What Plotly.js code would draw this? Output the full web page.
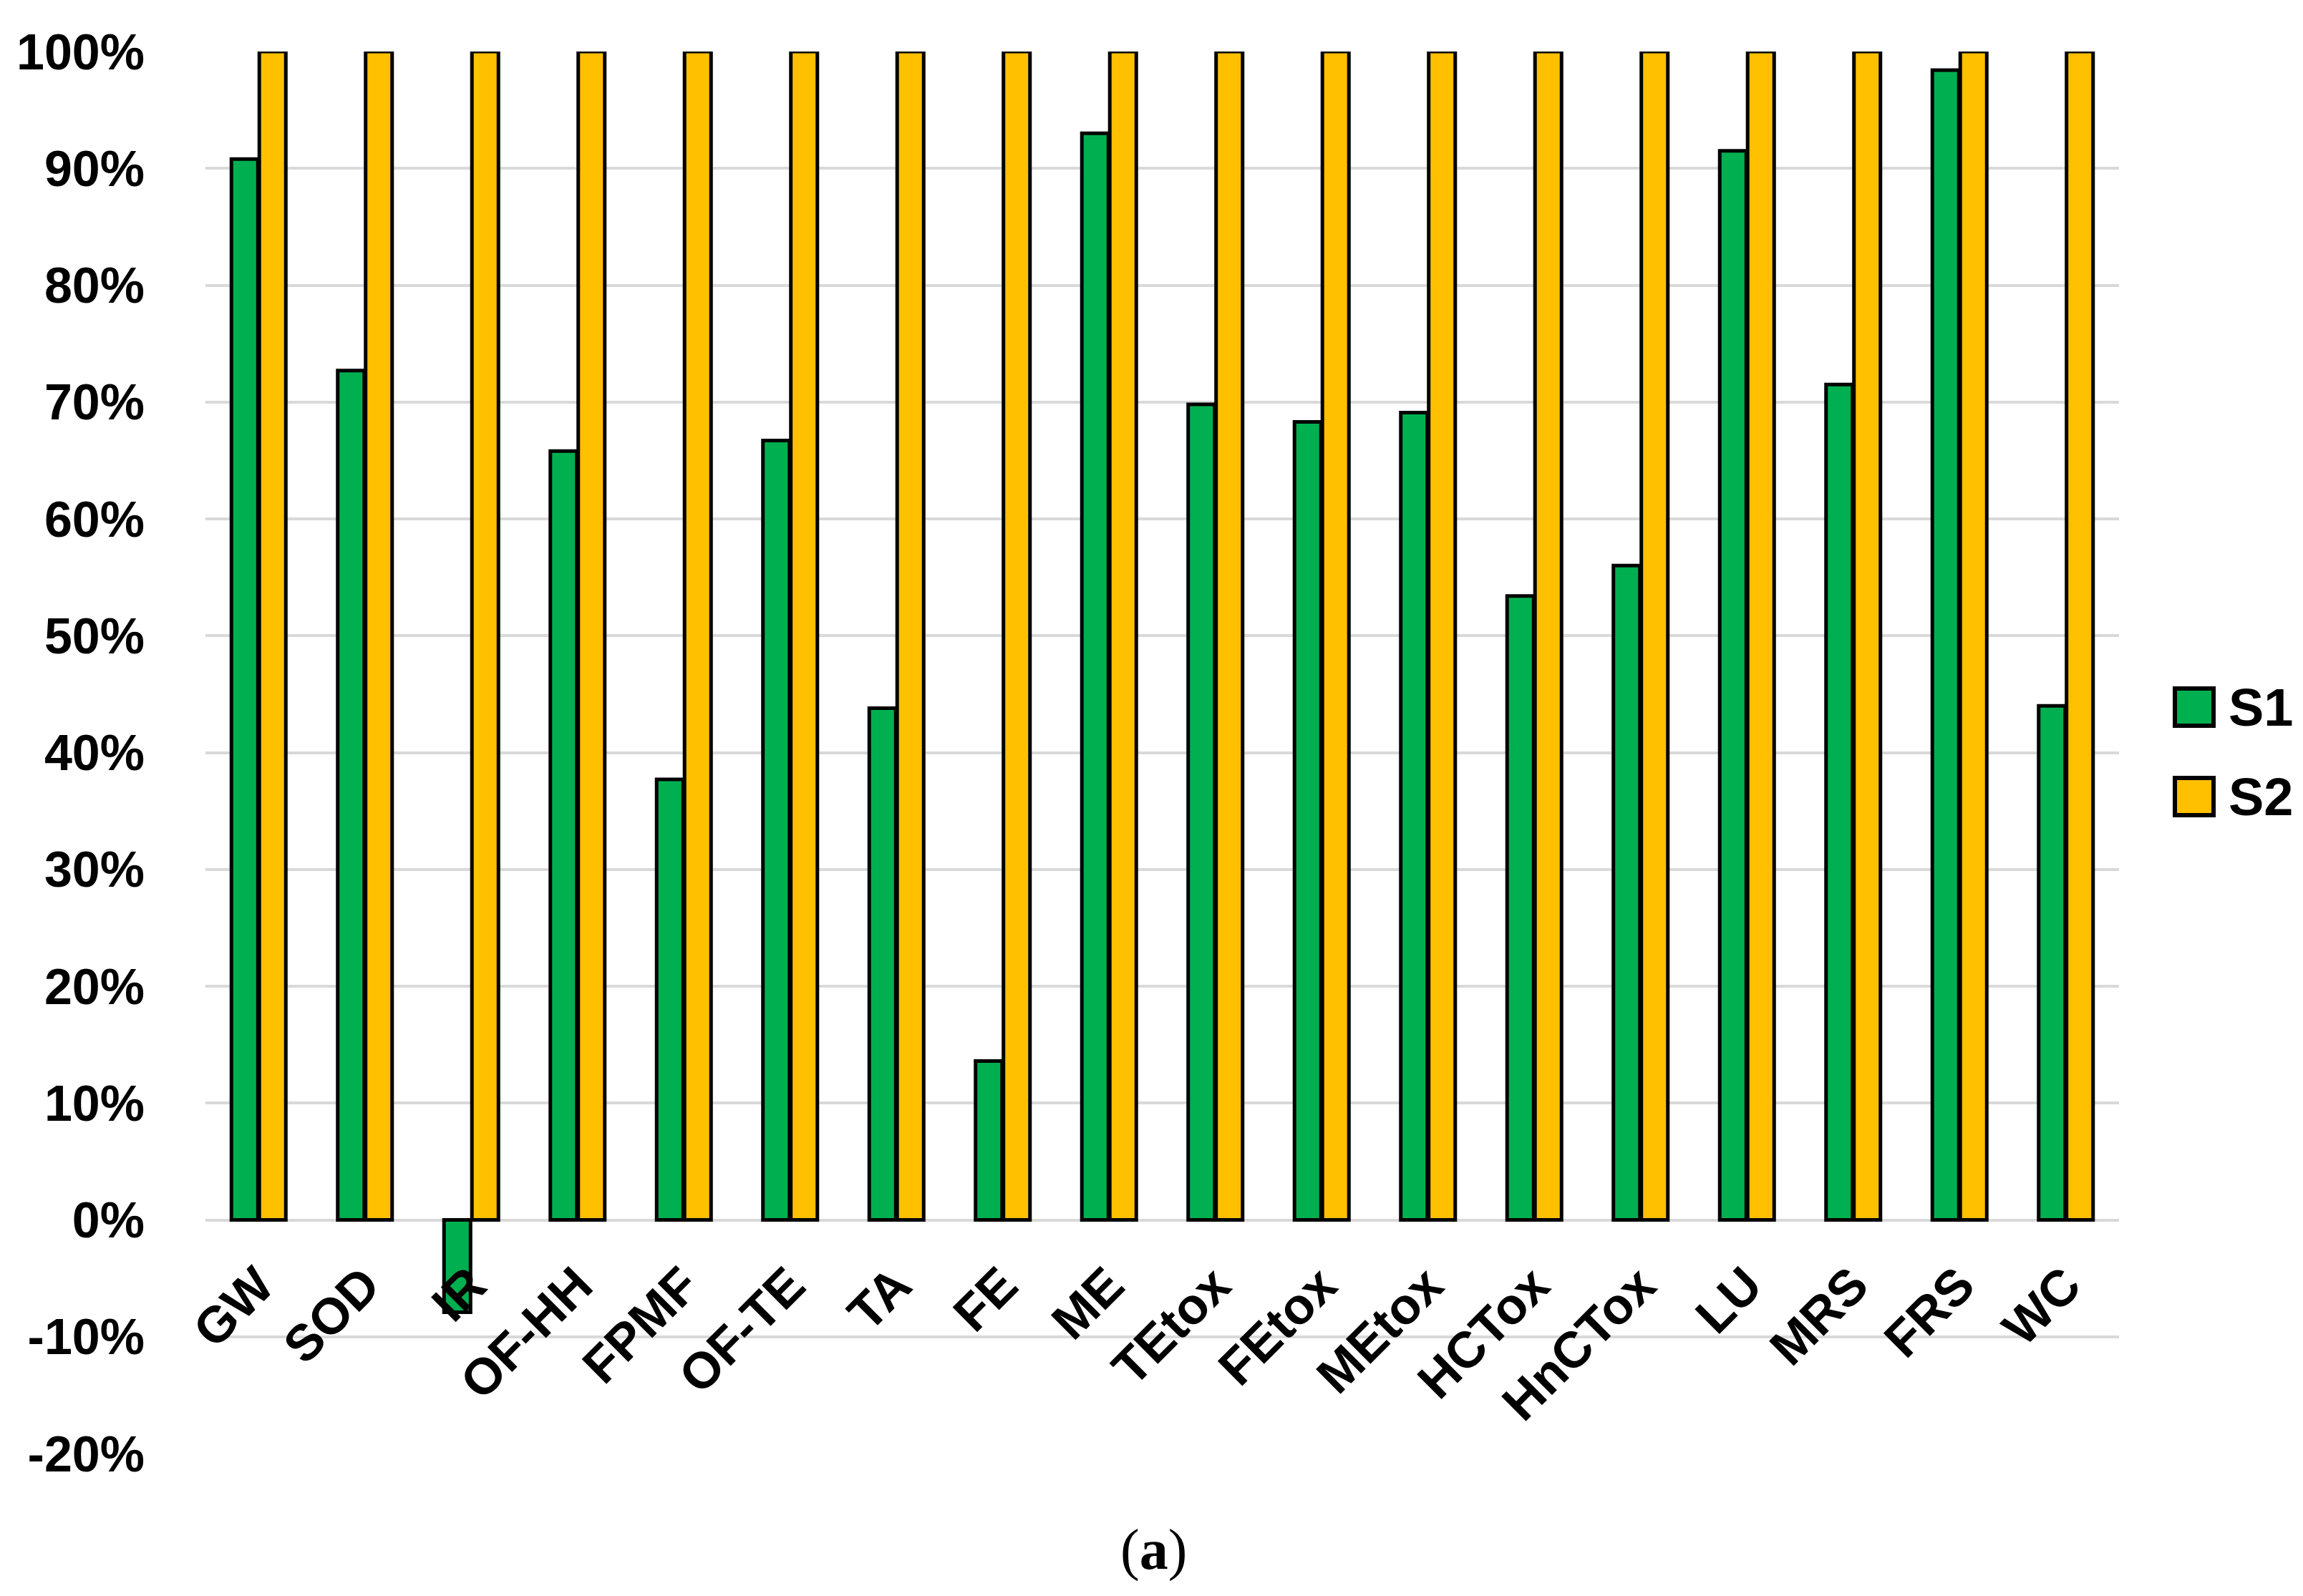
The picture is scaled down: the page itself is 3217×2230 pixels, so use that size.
<!DOCTYPE html>
<html>
<head>
<meta charset="utf-8">
<script src="https://cdn.plot.ly/plotly-3.0.1.min.js"></script>
<style>html,body{margin:0;padding:0;background:#fff;}#chart{width:3217px;height:2230px;}</style>
</head>
<body>
<div id="chart"></div>
<script>
const categories = ["GW","SOD","IR","OF-HH","FPMF","OF-TE","TA","FE","ME","TEtox","FEtox","MEtox","HCTox","HnCTox","LU","MRS","FRS","WC"];
const s1Values = [0.908,0.727,-0.079,0.658,0.377,0.667,0.438,0.136,0.930,0.698,0.683,0.691,0.534,0.560,0.915,0.715,0.984,0.440];
const s2Values = [1,1,1,1,1,1,1,1,1,1,1,1,1,1,1,1,1,1];
const seriesNames = ["S1","S2"];
const yTickVals = [-0.2,-0.1,0,0.1,0.2,0.3,0.4,0.5,0.6,0.7,0.8,0.9,1.0];
const yTickText = ["-20%","-10%","0%","10%","20%","30%","40%","50%","60%","70%","80%","90%","100%"];
const caption = "(<b>a</b>)";

const GREEN = "#00B050", YELLOW = "#FFC000";
const FONT = "'Liberation Sans', Arial, sans-serif";
const yMin = -0.2, yMax = 1.0;

const traces = [
  {type:"bar", name:seriesNames[0], x:categories, y:s1Values,
   marker:{color:GREEN, line:{color:"#000", width:5}}, showlegend:false},
  {type:"bar", name:seriesNames[1], x:categories, y:s2Values,
   marker:{color:YELLOW, line:{color:"#000", width:5}}, showlegend:false}
];

const legendItems = [
  {name:seriesNames[0], color:GREEN, y:0.5324},
  {name:seriesNames[1], color:YELLOW, y:0.4686}
];
const shapes = legendItems.map(it => ({
  type:"rect", xref:"paper", yref:"paper",
  x0:1.0292, x1:1.0494, y0:it.y-0.0133, y1:it.y+0.0133,
  fillcolor:it.color, line:{color:"#000", width:6}
}));
const annotations = legendItems.map(it => ({
  xref:"paper", yref:"paper", x:1.0565, y:it.y, xanchor:"left", yanchor:"middle",
  text:"<b>"+it.name+"</b>", showarrow:false, font:{family:FONT, size:74, color:"#000"}
}));
annotations.push({
  xref:"paper", yref:"paper", x:0.4956, y:-0.0689, xanchor:"center", yanchor:"middle",
  text:caption, showarrow:false, font:{family:"'Liberation Serif', 'Times New Roman', serif", size:80, color:"#000"}
});

const layout = {
  width:3217, height:2230,
  margin:{l:287, r:257, t:72, b:199},
  paper_bgcolor:"#fff", plot_bgcolor:"#fff",
  barmode:"group", bargap:0.475, bargroupgap:0.05,
  showlegend:false,
  xaxis:{
    type:"category", anchor:"free", position:(0 - yMin)/(yMax - yMin),
    showgrid:false, showline:false, zeroline:false,
    ticks:"outside", ticklen:20, tickcolor:"rgba(0,0,0,0)",
    tickangle:-45, tickfont:{family:FONT, size:71, color:"#000", weight:"bold"}
  },
  yaxis:{
    range:[yMin, yMax], tickvals:yTickVals, ticktext:yTickText,
    showgrid:true, gridcolor:"#D9D9D9", gridwidth:4, zeroline:false, showline:false,
    ticks:"outside", ticklen:70, tickcolor:"rgba(0,0,0,0)",
    tickfont:{family:FONT, size:70, color:"#000", weight:"bold"}
  },
  shapes:shapes, annotations:annotations
};

Plotly.newPlot("chart", traces, layout, {staticPlot:true});
</script>
</body>
</html>
